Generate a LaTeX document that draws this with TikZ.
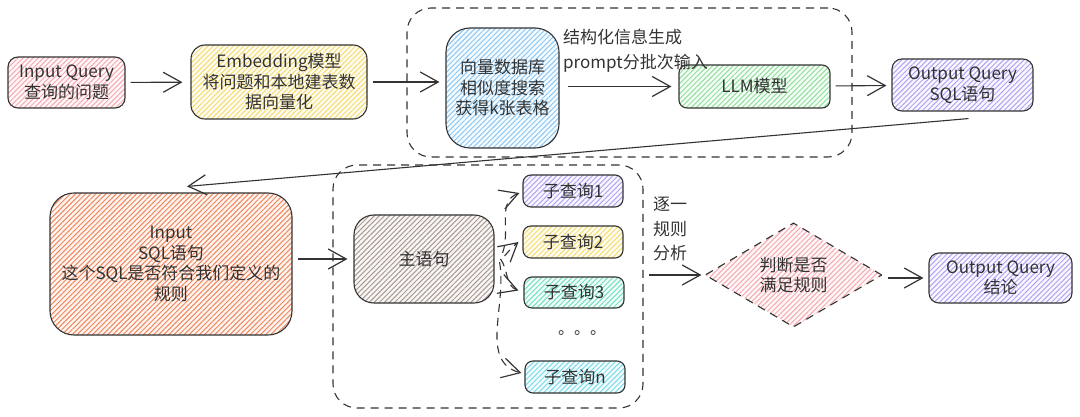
\documentclass[tikz,border=0pt]{standalone}
\usepackage{fontspec}
\setmainfont{Noto Sans CJK SC}
\usetikzlibrary{arrows.meta,patterns.meta,shapes.geometric,calc}
\definecolor{ink}{HTML}{333333}
\definecolor{cpink}{HTML}{F7A8B0}
\definecolor{cyellow}{HTML}{F5DC6E}
\definecolor{cblue}{HTML}{8CC8F5}
\definecolor{cgreen}{HTML}{8EE09A}
\definecolor{cpurple}{HTML}{B4A2F5}
\definecolor{corange}{HTML}{F0875A}
\definecolor{cbrown}{HTML}{A89890}
\definecolor{cteal}{HTML}{6FE0C0}
\definecolor{ccyan}{HTML}{7ADCEA}
\tikzset{
  box/.style={draw=ink, line width=1.1pt, rounded corners=10pt, align=center, inner sep=0pt,
    text=ink, font=\fontsize{17}{20.5}\selectfont},
  hatch/.style={preaction={fill=#1!8}, pattern={Lines[angle=45,distance=3.6pt,line width=1pt]}, pattern color=#1},
  arr/.style={draw=ink, line width=1.1pt, -{Straight Barb[length=18pt,width=20pt,line width=1.2pt]}},
  dline/.style={dash pattern=on 8pt off 6pt},
  dbox/.style={draw=ink, line width=1.1pt, dline, rounded corners=24pt, inner sep=0pt},
  lbl/.style={text=ink, font=\fontsize{17}{24.5}\selectfont, align=left, inner sep=0pt},
}
\begin{document}
\begin{tikzpicture}[x=1pt,y=-1pt]
\useasboundingbox (0,0) rectangle (1080,417);
% groups
\node[dbox, minimum width=445, minimum height=149] (grpA) at (629.5,82.5) {};
\node[dbox, minimum width=310, minimum height=243] (grpB) at (488,286.5) {};
% top row
\node[box, hatch=cpink, minimum width=117, minimum height=51] (q) at (66.5,82.5) {Input Query\\查询的问题};
\node[box, hatch=cyellow, rounded corners=14pt, minimum width=176, minimum height=74] (emb) at (279,82) {Embedding模型\\将问题和本地建表数\\据向量化};
\node[box, hatch=cblue, rounded corners=24pt, minimum width=113, minimum height=120] (vdb) at (502.5,88) {向量数据库\\相似度搜索\\获得k张表格};
\node[box, hatch=cgreen, rounded corners=8pt, minimum width=151, minimum height=43] (llm) at (754.5,86.5) {LLM模型};
\node[box, hatch=cpurple, minimum width=141, minimum height=52] (osql) at (962.5,85) {Output Query\\SQL语句};
\node[lbl, anchor=north west] (plbl) at (563,29) {结构化信息生成\\prompt分批次输入};
% bottom row
\node[box, hatch=corange, rounded corners=24pt, minimum width=242, minimum height=142] (isql) at (171,264) {Input\\SQL语句\\这个SQL是否符合我们定义的\\规则};
\node[box, hatch=cbrown, rounded corners=20pt, minimum width=140, minimum height=88] (main) at (424,259) {主语句};
\node[box, hatch=cpurple, rounded corners=8pt, minimum width=100, minimum height=32] (s1) at (573,191) {子查询1};
\node[box, hatch=cyellow, rounded corners=8pt, minimum width=100, minimum height=32] (s2) at (573,242) {子查询2};
\node[box, hatch=cteal, rounded corners=8pt, minimum width=100, minimum height=31] (s3) at (574,292.5) {子查询3};
\node[box, hatch=ccyan, rounded corners=8pt, minimum width=100, minimum height=32] (sn) at (575,377) {子查询n};
\node[text=ink, font=\fontsize{16}{20}\selectfont, inner sep=0pt] (dots) at (582,333) {。。。};
\node[lbl, anchor=north west] (alb) at (653,197) {逐一\\规则\\分析};
\node[box, hatch=cpink, shape=diamond, dline, rounded corners=0pt, minimum width=177, minimum height=86] (dia) at (793.5,275) {判断是否\\满足规则};
\node[box, hatch=cpurple, minimum width=143, minimum height=50] (oc) at (1000.5,278) {Output Query\\结论};
% connectors
\draw[arr, shorten <=5pt, shorten >=8pt] (q) -- (emb);
\draw[arr, shorten <=5pt, shorten >=6pt] (emb.east) -- (emb.east -| vdb.west);
\draw[arr, shorten <=8pt, shorten >=7pt] (vdb.east |- llm) -- (llm.west);
\draw[arr, shorten <=5pt, shorten >=5pt] (llm) -- (osql);
\draw[arr] ($(osql.south)+(6,7)$) -- ($(isql.north)+(16,-6)$);
\draw[arr, shorten <=5pt, shorten >=6pt] (isql.east |- main) -- (main.west);
\draw[arr, dline] ($(main.east)+(8,-6)$) to[out=70,in=200] ($(s1.west)+(-3,2)$);
\draw[arr, dline] ($(main.east)+(10,-3)$) to[bend left=5] ($(s2.west)+(-4,0)$);
\draw[arr, dline] ($(main.east)+(6,0)$) to[out=-55,in=160] ($(s3.west)+(-5,-2)$);
\draw[arr, dline] ($(main.east)+(5,3)$) to[out=-80,in=165] ($(sn.west)+(-3,-4)$);
\draw[arr, shorten <=5pt, shorten >=3pt] (grpB.east |- dia) -- (dia.west);
\draw[arr, shorten <=5pt, shorten >=5pt] (dia.east |- oc) -- (oc.west);
\end{tikzpicture}
\end{document}
